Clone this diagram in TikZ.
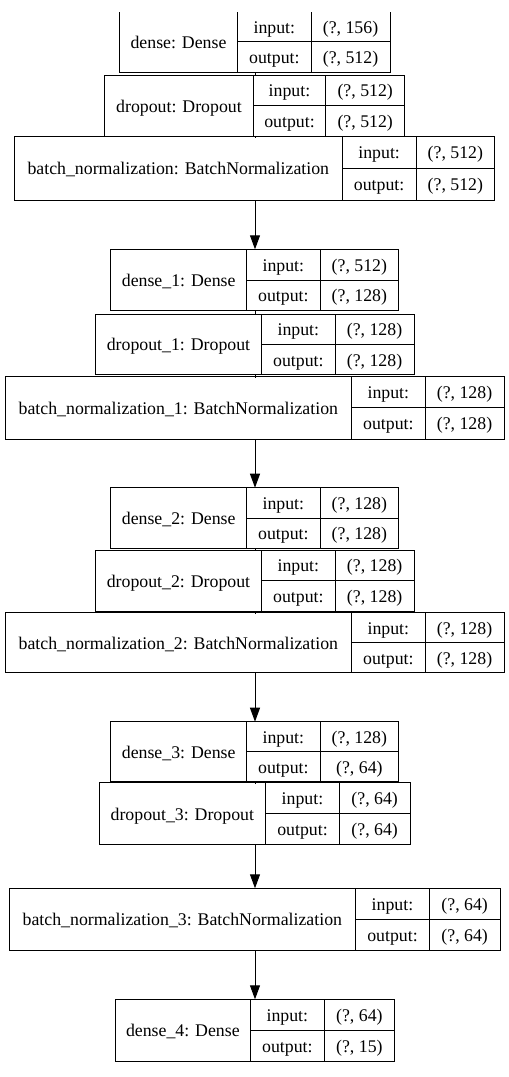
\documentclass[tikz,border=0pt]{standalone}
\usepackage{fontspec}
\setmainfont{Liberation Serif}
\usetikzlibrary{arrows.meta}
\tikzset{
  boxshape/.style={draw=none,inner sep=0pt,outer sep=0pt,anchor=north west},
  frame/.style={draw=black,line width=1pt},
  txt/.style={inner sep=0pt,text height=13pt,text depth=0pt,font=\fontsize{17.8}{20}\selectfont},
  arr/.style={draw=black,line width=1pt,-{Triangle[length=14pt,width=10pt]}},
  stub/.style={draw=black,line width=1pt},
}
\newcommand\klayer[9]{%
  \def\kn{#1}\def\kl{#2}\def\kda{#3}\def\kdb{#4}\def\kr{#5}\def\kt{#6}\def\kb{#7}\def\kti{#8}\def\kin{#9}\klayerfinish}
\newcommand\klayerfinish[1]{%
  \pgfmathsetmacro\km{(\kt+\kb)/2}%
  \pgfmathsetmacro\kw{\kr-\kl}%
  \pgfmathsetmacro\kh{\kb-\kt}%
  \pgfmathsetmacro\kca{(\kl+\kda)/2}%
  \pgfmathsetmacro\kcb{(\kda+\kdb)/2}%
  \pgfmathsetmacro\kcc{(\kdb+\kr)/2}%
  \pgfmathsetmacro\kya{(\kt+\km)/2}%
  \pgfmathsetmacro\kyb{(\km+\kb)/2}%
  \node[boxshape,minimum width=\kw pt,minimum height=\kh pt] (\kn) at (\kl,\kt) {};
  \draw[frame,fill=white] (\kn.north west) rectangle (\kn.south east);
  \draw[frame] (\kda,\kt) -- (\kda,\kb);
  \draw[frame] (\kdb,\kt) -- (\kdb,\kb);
  \draw[frame] (\kda,\km) -- (\kr,\km);
  \node[txt] (\kn-title) at (\kca,\km) {\kti};
  \node[txt] (\kn-inl) at (\kcb,\kya) {input:};
  \node[txt] (\kn-outl) at (\kcb,\kyb) {output:};
  \node[txt] (\kn-inv) at (\kcc,\kya) {\kin};
  \node[txt] (\kn-outv) at (\kcc,\kyb) {#1};
}
\begin{document}
\begin{tikzpicture}[x=1pt,y=-1pt]
\useasboundingbox[fill=white] (0,0) rectangle (509,1077);
\clip (0,12.8) rectangle (509,1077);
\coordinate (ax) at (255,0);
\klayer{l0}{119.3}{237.7}{311}{390}{11.5}{72.3}{dense: Dense}{(?, 156)}{(?, 512)}
\klayer{l1}{104.7}{253.3}{325.7}{404.7}{75}{136}{dropout: Dropout}{(?, 512)}{(?, 512)}
\klayer{l2}{14.3}{342.3}{416}{494.7}{136.5}{200}{batch\_normalization: BatchNormalization}{(?, 512)}{(?, 512)}
\klayer{l3}{110.7}{246.7}{320}{398.7}{249.3}{310.7}{dense\_1: Dense}{(?, 512)}{(?, 128)}
\klayer{l4}{95.3}{261.7}{335}{414}{314}{374.7}{dropout\_1: Dropout}{(?, 128)}{(?, 128)}
\klayer{l5}{5}{351.7}{425}{504}{376}{439}{batch\_normalization\_1: BatchNormalization}{(?, 128)}{(?, 128)}
\klayer{l6}{110.7}{246.7}{320}{398.7}{487.7}{548.3}{dense\_2: Dense}{(?, 128)}{(?, 128)}
\klayer{l7}{95.3}{261.7}{335}{414.3}{550}{611.7}{dropout\_2: Dropout}{(?, 128)}{(?, 128)}
\klayer{l8}{5}{351.7}{425}{504}{612.7}{672.7}{batch\_normalization\_2: BatchNormalization}{(?, 128)}{(?, 128)}
\klayer{l9}{110.7}{246.7}{320}{398.7}{721.7}{781.7}{dense\_3: Dense}{(?, 128)}{(?, 64)}
\klayer{l10}{99}{265.7}{339.3}{410}{782.7}{844.3}{dropout\_3: Dropout}{(?, 64)}{(?, 64)}
\klayer{l11}{9}{355.7}{429.3}{500}{888.3}{950}{batch\_normalization\_3: BatchNormalization}{(?, 64)}{(?, 64)}
\klayer{l12}{115}{250.7}{324}{394.7}{999.3}{1061}{dense\_4: Dense}{(?, 64)}{(?, 15)}
% connectors
\draw[stub] (l0.south -| ax) -- (l1.north -| ax);
\draw[stub] (l1.south -| ax) -- ([yshift=-1.5pt]l2.north -| ax);
\draw[arr] (l2.south -| ax) -- (l3.north -| ax);
\draw[stub] (l3.south -| ax) -- (l4.north -| ax);
\draw[stub] (l4.south -| ax) -- ([yshift=-1.5pt]l5.north -| ax);
\draw[arr] (l5.south -| ax) -- (l6.north -| ax);
\draw[stub] (l6.south -| ax) -- (l7.north -| ax);
\draw[stub] (l7.south -| ax) -- ([yshift=-1.5pt]l8.north -| ax);
\draw[arr] (l8.south -| ax) -- (l9.north -| ax);
\draw[stub] (l9.south -| ax) -- ([yshift=-1.5pt]l10.north -| ax);
\draw[arr] (l10.south -| ax) -- (l11.north -| ax);
\draw[arr] (l11.south -| ax) -- (l12.north -| ax);
\end{tikzpicture}
\end{document}
